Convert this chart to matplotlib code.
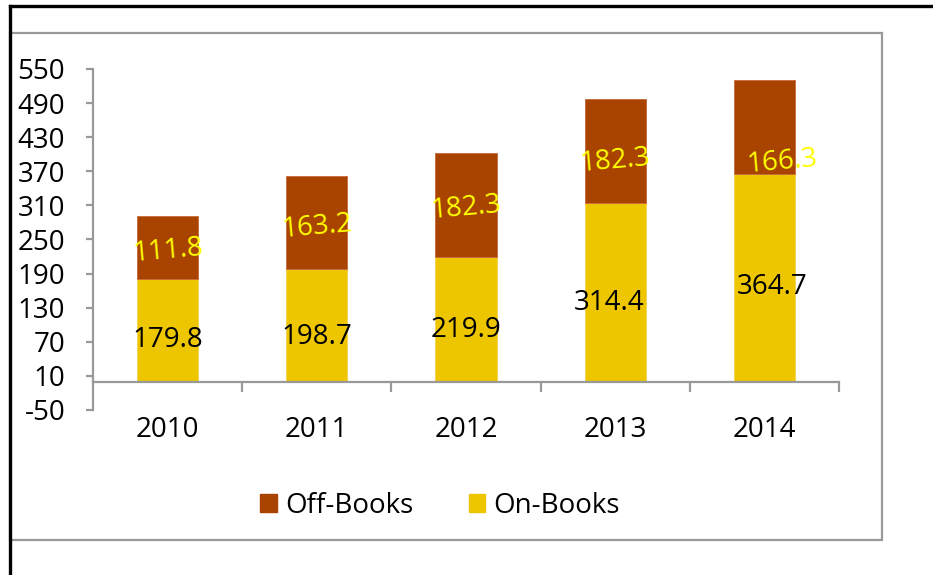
import numpy as np
import matplotlib
matplotlib.use("Agg")
import matplotlib.pyplot as plt
import matplotlib.font_manager as fm
from matplotlib.lines import Line2D
from matplotlib.patches import Rectangle, Patch

# Datos
years = ["2010", "2011", "2012", "2013", "2014"]
on_books = [179.8, 198.7, 219.9, 314.4, 364.7]
off_books = [111.8, 163.2, 182.3, 182.3, 166.3]
y_ticks = [-50, 10, 70, 130, 190, 250, 310, 370, 430, 490, 550]

# fuente estrecha tipo Calibri si existe
names = {f.name for f in fm.fontManager.ttflist}
if "Liberation Sans Narrow" in names:
    FONT, FS = "Liberation Sans Narrow", 22
else:
    FONT, FS = "Open Sans", 20
plt.rcParams["font.family"] = [FONT, "DejaVu Sans"]
plt.rcParams["axes.unicode_minus"] = False

c_off = "#A94400"
c_on = "#EEC600"
gray = "#999999"

fig = plt.figure(figsize=(9.33, 5.75), dpi=100)
ax = fig.add_axes([93 / 933, 1 - 410 / 575, 746 / 933, 341 / 575])

x = np.arange(len(years))
w = 0.41
ax.bar(x, on_books, w, color=c_on, edgecolor="#F2D24A", linewidth=0.6, zorder=2)
ax.bar(x, off_books, w, bottom=on_books, color=c_off, edgecolor="#C8683A",
       linewidth=0.6, zorder=2)

# etiquetas de datos (desplazamientos en pixeles)
px = 72 / 100
on_dx = [0, 0, 0, -6, 8]
on_dy = [-10, -12, -11, -11, -9]
off_dx = [0, 0, 0, 0, 18]
off_dy = [-3, -5, -3, -10, -35]
for i in range(len(years)):
    ax.annotate(f"{on_books[i]:.1f}", (x[i], on_books[i] / 2),
                xytext=(on_dx[i] * px, on_dy[i] * px), textcoords="offset points",
                ha="center", va="center", fontsize=FS, color="black", zorder=3)
    ax.annotate(f"{off_books[i]:.1f}", (x[i], on_books[i] + off_books[i] / 2),
                xytext=(off_dx[i] * px, off_dy[i] * px), textcoords="offset points",
                ha="center", va="center", fontsize=FS, color="#FFFF00",
                rotation=5, rotation_mode="anchor", zorder=3)

ax.set_xlim(-0.5, 4.5)
ax.set_ylim(-50, 550)
ax.set_yticks(y_ticks)
ax.set_xticks(x)
ax.set_xticklabels(years)
ax.set_xticks(list(x + 0.5), minor=True)

for s in ["top", "right"]:
    ax.spines[s].set_visible(False)
ax.spines["left"].set_color(gray)
ax.spines["left"].set_linewidth(1.6)
ax.spines["bottom"].set_position(("data", 0))
ax.spines["bottom"].set_color(gray)
ax.spines["bottom"].set_linewidth(1.6)

ax.tick_params(axis="y", direction="out", length=5, width=1.6, color=gray,
               labelsize=FS, pad=15)
ax.tick_params(axis="x", which="major", length=0, labelsize=FS, pad=25)
ax.tick_params(axis="x", which="minor", direction="out", length=7, width=1.6, color=gray)

# leyenda
handles = [Patch(color=c_off, label="Off-Books"), Patch(color=c_on, label="On-Books")]
fig.legend(handles=handles, loc="center", bbox_to_anchor=(440 / 933, 1 - 506 / 575),
           ncol=2, frameon=False, fontsize=FS, handlelength=0.6, handleheight=0.6,
           handletextpad=0.3, columnspacing=2.0)

# bordes
fig.add_artist(Rectangle((10 / 933, 1 - 540 / 575), 872 / 933, 507 / 575,
                         transform=fig.transFigure, fill=False, edgecolor=gray,
                         linewidth=1.6))
fig.add_artist(Line2D([10 / 933, 1], [1 - 6 / 575, 1 - 6 / 575],
                      transform=fig.transFigure, color="black", linewidth=2.4))
fig.add_artist(Line2D([10 / 933, 10 / 933], [0, 1 - 6 / 575],
                      transform=fig.transFigure, color="black", linewidth=2.4))

fig.savefig("out.png", dpi=100)
